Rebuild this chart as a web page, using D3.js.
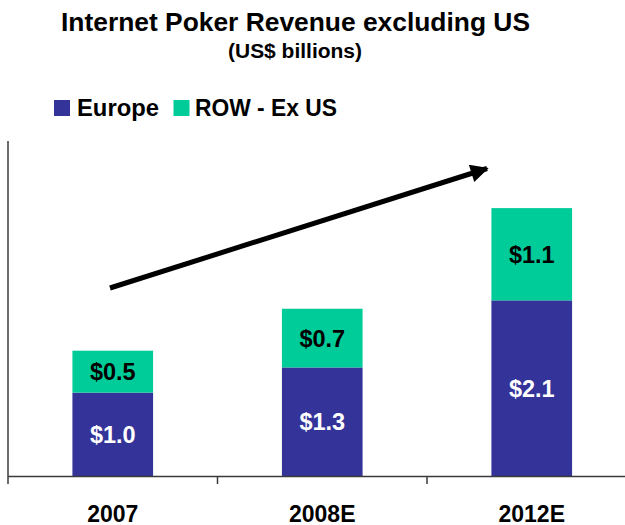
<!DOCTYPE html>
<html>
<head>
<meta charset="utf-8">
<script src="https://cdn.jsdelivr.net/npm/d3@7"></script>
<style>
  html, body { margin: 0; padding: 0; background: #fff; }
  svg { display: block; font-family: "Liberation Sans", Arial, sans-serif; }
</style>
</head>
<body>
<svg id="chart" width="625" height="525"></svg>
<script>
const categories = ["2007", "2008E", "2012E"];
const europe = [1.0, 1.3, 2.1];
const row = [0.5, 0.7, 1.1];
const seriesNames = ["Europe", "ROW - Ex US"];
const seriesColors = ["#333399", "#00CC99"];
const labelColors = ["#ffffff", "#000000"];

const svg = d3.select("#chart");
const W = 625, H = 525;

const x = d3.scaleBand().domain(categories).range([8, 636.5]).paddingInner(0.615).paddingOuter(0.3075);
const y = d3.scaleLinear().domain([0, 4]).range([476.5, 141]);

// Title
svg.append("text").attr("x", 61).attr("y", 31)
  .attr("font-weight", "bold").attr("font-size", 26)
  .attr("textLength", 469).attr("lengthAdjust", "spacingAndGlyphs")
  .text("Internet Poker Revenue excluding US");
svg.append("text").attr("x", 228).attr("y", 58)
  .attr("font-weight", "bold").attr("font-size", 20)
  .attr("textLength", 134).attr("lengthAdjust", "spacingAndGlyphs")
  .text("(US$ billions)");

// Legend
const legend = [
  { name: seriesNames[0], color: seriesColors[0], sx: 54, tx: 77, tw: 82 },
  { name: seriesNames[1], color: seriesColors[1], sx: 173.5, tx: 195, tw: 142 }
];
legend.forEach(l => {
  svg.append("rect").attr("x", l.sx).attr("y", 100).attr("width", 16).attr("height", 16).attr("fill", l.color);
  svg.append("text").attr("x", l.tx).attr("y", 115.5).attr("font-weight", "bold").attr("font-size", 24)
    .attr("textLength", l.tw).attr("lengthAdjust", "spacingAndGlyphs").text(l.name);
});

// Stacked data
const data = categories.map((c, i) => ({ cat: c, Europe: europe[i], ROW: row[i] }));
const stack = d3.stack().keys(["Europe", "ROW"])(data);

stack.forEach((layer, li) => {
  const g = svg.append("g");
  g.selectAll("rect").data(layer).join("rect")
    .attr("x", d => x(d.data.cat))
    .attr("width", x.bandwidth())
    .attr("y", d => y(d[1]))
    .attr("height", d => y(d[0]) - y(d[1]))
    .attr("fill", seriesColors[li]);
  g.selectAll("text").data(layer).join("text")
    .attr("x", d => x(d.data.cat) + x.bandwidth() / 2)
    .attr("y", d => (y(d[0]) + y(d[1])) / 2 + 8.5)
    .attr("text-anchor", "middle")
    .attr("font-weight", "bold").attr("font-size", 23.5)
    .attr("fill", labelColors[li])
    .text(d => "$" + (d[1] - d[0]).toFixed(1));
});

// Axes
const axisColor = "#3a3a3a";
svg.append("line").attr("x1", 8).attr("x2", 8).attr("y1", 141).attr("y2", 484)
  .attr("stroke", axisColor).attr("stroke-width", 1.5);
svg.append("line").attr("x1", 8).attr("x2", W).attr("y1", 476.5).attr("y2", 476.5)
  .attr("stroke", axisColor).attr("stroke-width", 1.5);
const step = x.step();
[1, 2].forEach(k => {
  const tx = 8 + k * step;
  svg.append("line").attr("x1", tx).attr("x2", tx).attr("y1", 476.5).attr("y2", 484)
    .attr("stroke", axisColor).attr("stroke-width", 1.5);
});
svg.selectAll("text.xl").data(categories).join("text").attr("class", "xl")
  .attr("x", d => x(d) + x.bandwidth() / 2)
  .attr("y", 522)
  .attr("text-anchor", "middle")
  .attr("font-weight", "bold").attr("font-size", 23)
  .text(d => d);

// Trend arrow
const defs = svg.append("defs");
defs.append("marker").attr("id", "ah").attr("viewBox", "0 0 10 10")
  .attr("refX", 9).attr("refY", 5).attr("markerWidth", 3.8).attr("markerHeight", 3.6)
  .attr("markerUnits", "strokeWidth").attr("orient", "auto")
  .append("path").attr("d", "M0,0 L10,5 L0,10 Z").attr("fill", "#000");
svg.append("line").attr("x1", 110).attr("y1", 288).attr("x2", 487).attr("y2", 168.5)
  .attr("stroke", "#000").attr("stroke-width", 5).attr("marker-end", "url(#ah)");
</script>
</body>
</html>
